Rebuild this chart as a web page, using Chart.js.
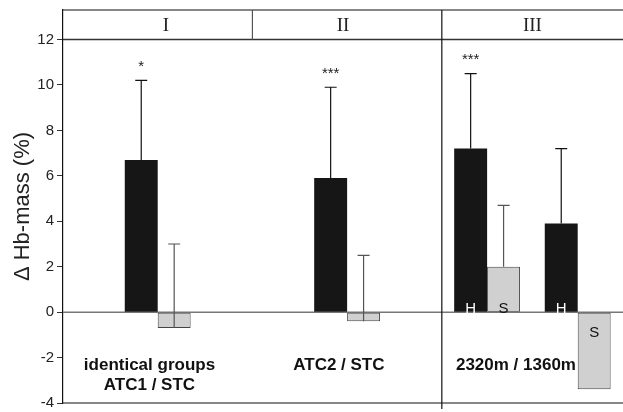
<!DOCTYPE html>
<html lang="en">
<head>
<meta charset="UTF-8">
<title>Hb-mass change</title>
<script src="https://cdn.jsdelivr.net/npm/chart.js"></script>
<style>
    * { margin: 0; padding: 0; box-sizing: border-box; }
    body { background: #fff; }
    .chart-container { width: 623px; height: 412px; }
</style>
</head>
<body>
<div class="chart-container"><canvas id="hbChart"></canvas></div>
<script>
// values, change of Hb-mass in %
const groups = ['I', 'II', 'III'];
const groupCaptions = [['identical groups', 'ATC1 / STC'], ['ATC2 / STC'], ['2320m / 1360m']];
const darkValues = [6.7, 5.9, 7.2, 3.9];
const darkErrTop = [10.2, 9.9, 10.5, 7.2];
const lightValues = [-0.7, -0.4, 2.0, -3.4];
const lightErrTop = [3.0, 2.5, 4.7, null];
const stars = ['*', '***', '***', ''];
const darkTags = ['', '', 'H', 'H'];
const lightTags = ['', '', 'S', 'S'];
const yTicks = [-4, -2, 0, 2, 4, 6, 8, 10, 12];

// layout: x axis is a fine grid of slots, every bar covers 4 of them
const SLOTS = 68;
const BAR_SLOTS = 4;
const pairSlot = [9, 32, 49, 60];
const dividers = [22.5, 45.5];
const headerAt = [12, 33.5, 56.5];
const captionAt = [10, 33, 54.5];

const dark = new Array(SLOTS).fill(null);
const light = new Array(SLOTS).fill(null);
pairSlot.forEach((s, i) => {
    dark[s] = darkValues[i];
    light[s + BAR_SLOTS] = lightValues[i];
});

const SANS = '"Liberation Sans", Arial, Helvetica, sans-serif';
const SERIF = '"Liberation Serif", "Times New Roman", serif';

const decorations = {
    id: 'decorations',
    beforeDatasetsDraw(chart) {
        const { ctx, chartArea, scales: { y } } = chart;
        const y0 = y.getPixelForValue(0);
        ctx.save();
        ctx.strokeStyle = '#777';
        ctx.lineWidth = 1.5;
        ctx.beginPath();
        ctx.moveTo(chartArea.left, y0);
        ctx.lineTo(chart.width, y0);
        ctx.stroke();
        ctx.restore();
    },
    afterDatasetsDraw(chart) {
        const { ctx, chartArea, scales: { x, y } } = chart;
        const darkMeta = chart.getDatasetMeta(0);
        const lightMeta = chart.getDatasetMeta(1);
        const y0 = y.getPixelForValue(0);
        ctx.save();

        // error bars
        const errBar = (bx, from, to, color) => {
            const yt = y.getPixelForValue(to);
            ctx.strokeStyle = color;
            ctx.lineWidth = 1.2;
            ctx.beginPath();
            ctx.moveTo(bx, y.getPixelForValue(from));
            ctx.lineTo(bx, yt);
            ctx.moveTo(bx - 6, yt);
            ctx.lineTo(bx + 6, yt);
            ctx.stroke();
            return yt;
        };
        pairSlot.forEach((s, i) => {
            const db = darkMeta.data[s];
            const lb = lightMeta.data[s + BAR_SLOTS];
            const capY = errBar(db.x, darkValues[i], darkErrTop[i], '#111');
            if (lightErrTop[i] !== null) errBar(lb.x, lightValues[i], lightErrTop[i], '#555');

            ctx.fillStyle = '#222';
            ctx.font = '15px ' + SANS;
            ctx.textAlign = 'center';
            ctx.textBaseline = 'alphabetic';
            if (stars[i]) ctx.fillText(stars[i], db.x, capY - 9.5);

            if (darkTags[i]) {
                ctx.fillStyle = '#fff';
                ctx.fillText(darkTags[i], db.x, y0 + 0.5);
            }
            if (lightTags[i]) {
                ctx.fillStyle = '#111';
                const by = lightValues[i] >= 0 ? y0 + 0.5 : y0 + 25;
                ctx.fillText(lightTags[i], lb.x, by);
            }
        });

        // frame, header band and group dividers
        const top = chartArea.top, bottom = chartArea.bottom;
        const y12 = y.getPixelForValue(12);
        ctx.strokeStyle = '#111';
        ctx.lineWidth = 1.2;
        ctx.beginPath();
        ctx.moveTo(chartArea.left, top);
        ctx.lineTo(chart.width, top);
        ctx.moveTo(chartArea.left, bottom);
        ctx.lineTo(chart.width, bottom);
        ctx.stroke();

        ctx.strokeStyle = '#333';
        ctx.lineWidth = 1.5;
        ctx.beginPath();
        ctx.moveTo(chartArea.left, y12);
        ctx.lineTo(chart.width, y12);
        ctx.stroke();

        ctx.lineWidth = 1.2;
        ctx.strokeStyle = '#555';
        ctx.beginPath();
        let dx = x.getPixelForValue(dividers[0]);
        ctx.moveTo(dx, top);
        ctx.lineTo(dx, y12);
        ctx.stroke();
        ctx.strokeStyle = '#111';
        ctx.beginPath();
        dx = x.getPixelForValue(dividers[1]);
        ctx.moveTo(dx, top);
        ctx.lineTo(dx, bottom + 6);
        ctx.stroke();

        ctx.fillStyle = '#222';
        ctx.font = '19px ' + SERIF;
        ctx.textAlign = 'center';
        ctx.textBaseline = 'middle';
        groups.forEach((g, i) => {
            ctx.fillText(g, x.getPixelForValue(headerAt[i]), (top + y12) / 2 + 1);
        });

        // captions below the zero line
        ctx.font = 'bold 17px ' + SANS;
        ctx.fillStyle = '#111';
        groupCaptions.forEach((lines, i) => {
            lines.forEach((t, k) => {
                ctx.fillText(t, x.getPixelForValue(captionAt[i]), y.getPixelForValue(-2.35) + k * 20);
            });
        });
        ctx.restore();
    }
};

new Chart(document.getElementById('hbChart'), {
    type: 'bar',
    data: {
        labels: new Array(SLOTS).fill(''),
        datasets: [
            {
                label: 'ATC / H',
                data: dark,
                backgroundColor: '#161616',
                borderWidth: 0
            },
            {
                label: 'STC / S',
                data: light,
                backgroundColor: '#d0d0d0',
                borderColor: '#444',
                borderWidth: 1,
                borderSkipped: false
            }
        ]
    },
    options: {
        responsive: true,
        maintainAspectRatio: false,
        animation: false,
        datasets: {
            bar: { grouped: false, barPercentage: BAR_SLOTS, categoryPercentage: 1 }
        },
        layout: { padding: { top: 10, bottom: 9, left: 0, right: 0 } },
        plugins: { legend: { display: false }, tooltip: { enabled: false } },
        scales: {
            x: { display: false, offset: true },
            y: {
                min: -4,
                max: 13.3,
                afterFit(scale) {
                    scale.width = 63;
                    scale.paddingTop = 0;
                    scale.paddingBottom = 0;
                },
                afterBuildTicks(scale) { scale.ticks = yTicks.map(v => ({ value: v })); },
                border: { display: true, color: '#111', width: 1.2 },
                grid: { drawOnChartArea: false, drawTicks: true, tickLength: 6, color: '#333' },
                ticks: {
                    padding: 3,
                    color: '#222',
                    font: { family: SANS, size: 15 }
                },
                title: {
                    display: true,
                    text: 'Δ Hb-mass (%)',
                    color: '#222',
                    padding: { top: 10, bottom: 0 },
                    font: { family: SANS, size: 22 }
                }
            }
        }
    },
    plugins: [decorations]
});
</script>
</body>
</html>
